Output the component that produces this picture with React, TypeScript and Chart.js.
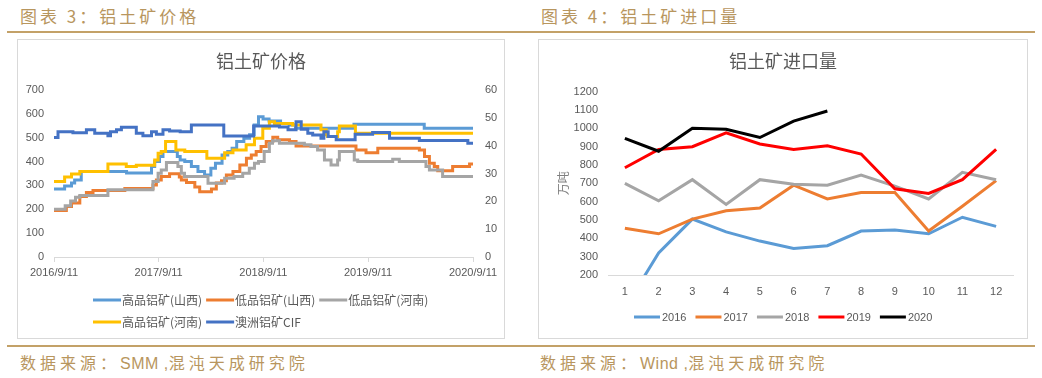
import React, { useEffect, useRef } from 'react';
import { Chart, registerables } from 'chart.js';

Chart.register(...registerables);

const CJK = '"Noto Sans CJK SC", "Noto Sans", sans-serif';
const LAT = '"Liberation Sans", "Noto Sans CJK SC", sans-serif';
const TICK_COLOR = '#595959';
const GOLD_TEXT = '#B8965E';
const GOLD_LINE = '#C3A168';
const FRAME = '#D9D9D9';

// ---------------- 图表 3：铝土矿价格 ----------------
const priceHeader = '图表 3：铝土矿价格';
const priceTitle = '铝土矿价格';
const priceSource = '数据来源：SMM ,混沌天成研究院';
const priceTickLabels = ['2016/9/11', '2017/9/11', '2018/9/11', '2019/9/11', '2020/9/11'];
const priceSeriesNames = ['高品铝矿(山西)', '低品铝矿(山西)', '低品铝矿(河南)', '高品铝矿(河南)', '澳洲铝矿CIF'];
const priceColors = ['#5B9BD5', '#ED7D31', '#A5A5A5', '#FFC000', '#4472C4'];

// change points [date, value] (元/吨); value holds until the next point
const highShanxi: [string, number][] = [
  ['2016-09-11', 285], ['2016-10-18', 298], ['2016-11-11', 310], ['2016-11-22', 323], ['2016-12-15', 358],
  ['2017-05-22', 352], ['2017-08-17', 379], ['2017-08-28', 400], ['2017-09-14', 421], ['2017-09-26', 442],
  ['2017-11-15', 421], ['2017-11-25', 407], ['2017-12-11', 400], ['2018-01-03', 379], ['2018-01-26', 358],
  ['2018-02-18', 344], ['2018-03-12', 372], ['2018-03-28', 393], ['2018-04-20', 428], ['2018-05-10', 442],
  ['2018-05-25', 456], ['2018-06-10', 484], ['2018-07-05', 498], ['2018-07-25', 512], ['2018-08-10', 553],
  ['2018-08-25', 588], ['2018-09-10', 578], ['2018-10-01', 570], ['2018-11-10', 560], ['2018-12-10', 553],
  ['2019-01-01', 540], ['2019-07-24', 556], ['2020-03-25', 540], ['2020-09-11', 540],
];
const lowShanxi: [string, number][] = [
  ['2016-09-11', 195], ['2016-10-24', 212], ['2016-11-11', 226], ['2016-12-10', 254], ['2017-01-02', 270],
  ['2017-01-25', 279], ['2017-05-16', 287], ['2017-08-22', 302], ['2017-09-03', 323], ['2017-09-20', 337],
  ['2017-10-19', 349], ['2017-11-22', 335], ['2017-11-29', 323], ['2017-12-17', 312], ['2018-01-15', 293],
  ['2018-02-01', 274], ['2018-03-14', 285], ['2018-03-31', 310], ['2018-04-18', 320], ['2018-05-05', 344],
  ['2018-05-28', 358], ['2018-06-21', 386], ['2018-07-14', 414], ['2018-07-31', 428], ['2018-08-17', 442],
  ['2018-09-03', 463], ['2018-09-21', 484], ['2018-10-14', 502], ['2018-10-31', 491], ['2018-12-11', 484],
  ['2019-01-03', 465], ['2019-07-31', 449], ['2019-09-04', 437], ['2019-10-15', 456], ['2020-03-08', 449],
  ['2020-03-26', 421], ['2020-04-12', 393], ['2020-04-29', 379], ['2020-05-11', 362], ['2020-07-02', 379],
  ['2020-08-30', 390], ['2020-09-11', 390],
];
const lowHenan: [string, number][] = [
  ['2016-09-11', 200], ['2016-10-20', 215], ['2016-11-08', 235], ['2016-11-25', 250], ['2016-12-10', 258],
  ['2017-03-18', 282], ['2017-08-22', 316], ['2017-09-09', 351], ['2017-09-20', 365], ['2017-10-08', 396],
  ['2017-11-17', 379], ['2017-11-29', 351], ['2017-12-10', 337], ['2018-03-02', 309], ['2018-04-29', 330],
  ['2018-06-01', 337], ['2018-07-01', 351], ['2018-07-24', 372], ['2018-08-11', 393], ['2018-08-25', 400],
  ['2018-09-14', 442], ['2018-10-02', 477], ['2018-10-13', 487], ['2018-11-06', 477], ['2019-02-01', 470],
  ['2019-02-24', 463], ['2019-03-19', 449], ['2019-04-12', 407], ['2019-05-05', 386], ['2019-05-28', 407],
  ['2019-06-03', 442], ['2019-07-25', 407], ['2019-08-06', 400], ['2019-12-06', 410], ['2019-12-29', 400],
  ['2020-03-31', 379], ['2020-04-12', 365], ['2020-05-28', 337], ['2020-09-11', 337],
];
const highHenan: [string, number][] = [
  ['2016-09-11', 316], ['2016-10-18', 335], ['2016-11-11', 348], ['2016-12-10', 358], ['2017-03-18', 390],
  ['2017-05-21', 379], ['2017-06-25', 385], ['2017-08-28', 407], ['2017-09-09', 435], ['2017-09-20', 442],
  ['2017-10-05', 484], ['2017-11-10', 449], ['2017-12-11', 442], ['2018-02-26', 414], ['2018-04-29', 437],
  ['2018-05-28', 449], ['2018-07-13', 470], ['2018-08-11', 498], ['2018-09-09', 540], ['2018-10-02', 567],
  ['2018-10-20', 560], ['2018-12-22', 553], ['2019-03-31', 533], ['2019-04-18', 512], ['2019-04-23', 505],
  ['2019-05-28', 525], ['2019-06-03', 549], ['2019-07-29', 519], ['2020-09-11', 519],
];
// 美元/吨, right axis
const ausCIF: [string, number][] = [
  ['2016-09-11', 42.9], ['2016-09-25', 45.0], ['2016-11-16', 44.6], ['2017-01-02', 45.7], ['2017-01-31', 44.5],
  ['2017-03-18', 43.6], ['2017-03-27', 45.0], ['2017-04-17', 45.7], ['2017-05-04', 46.6], ['2017-06-25', 44.5],
  ['2017-07-18', 43.6], ['2017-08-17', 45.0], ['2017-09-03', 44.1], ['2017-09-26', 45.7], ['2017-10-19', 45.3],
  ['2017-11-25', 45.0], ['2018-01-03', 47.4], ['2018-04-26', 43.5], ['2018-08-08', 47.1], ['2018-11-06', 46.7],
  ['2018-12-06', 45.7], ['2019-01-03', 48.6], ['2019-01-21', 45.9], ['2019-02-13', 44.5], ['2019-03-02', 43.8],
  ['2019-03-31', 42.7], ['2019-04-10', 45.0], ['2019-04-25', 43.3], ['2019-05-23', 42.1], ['2019-07-28', 44.1],
  ['2019-09-27', 44.7], ['2019-11-25', 42.7], ['2020-03-08', 41.9], ['2020-08-24', 40.9], ['2020-09-11', 40.9],
];
const priceSeries = [highShanxi, lowShanxi, lowHenan, highHenan, ausCIF];
const priceAxisOf = ['y', 'y', 'y', 'y', 'y1'];
const priceLeftRange = [0, 700, 100];
const priceRightRange = [0, 60, 10];

// ---------------- 图表 4：铝土矿进口量 ----------------
const importHeader = '图表 4：铝土矿进口量';
const importTitle = '铝土矿进口量';
const importSource = '数据来源：Wind ,混沌天成研究院';
const importUnit = '万吨';
const months = ['1', '2', '3', '4', '5', '6', '7', '8', '9', '10', '11', '12'];
const importYears = ['2016', '2017', '2018', '2019', '2020'];
const importColors = ['#5B9BD5', '#ED7D31', '#A5A5A5', '#FF0000', '#000000'];
const imp2016 = [20, 320, 505, 435, 385, 345, 360, 440, 445, 425, 515, 465];
const imp2017 = [455, 425, 505, 550, 565, 690, 615, 650, 650, 440, 575, 715];
const imp2018 = [700, 605, 720, 585, 720, 695, 690, 745, 685, 615, 760, 720];
const imp2019 = [785, 885, 900, 975, 915, 885, 905, 860, 670, 645, 720, 885];
const imp2020 = [945, 875, 1000, 995, 950, 1040, 1095];
const importSeries = [imp2016, imp2017, imp2018, imp2019, imp2020];
const importRange = [200, 1200, 100];

const ts = (s: string) => {
  const [y, m, d] = s.split(/[-/]/).map(Number);
  return Date.UTC(y, m - 1, d);
};

function lineLegend(cfg: any) {
  return {
    id: 'lineLegend',
    afterDraw(chart: any) {
      const ctx = chart.ctx;
      const ds = chart.data.datasets;
      ctx.save();
      ctx.font = cfg.font;
      ctx.textBaseline = 'middle';
      ctx.textAlign = 'left';
      const itemW = (i: number) => cfg.lineLen + cfg.gapLine + ctx.measureText(ds[i].label).width;
      const rowW = (r: number[]) => r.reduce((s: number, i: number, k: number) => s + itemW(i) + (k ? cfg.gapItem : 0), 0);
      const startX = Math.round((chart.width - rowW(cfg.rows[0])) / 2);
      cfg.rows.forEach((row: number[], ri: number) => {
        let x = startX;
        const y = cfg.rowY[ri];
        row.forEach((i: number) => {
          ctx.strokeStyle = ds[i].borderColor;
          ctx.lineWidth = cfg.lineWidth;
          ctx.lineCap = 'butt';
          ctx.beginPath();
          ctx.moveTo(x, y);
          ctx.lineTo(x + cfg.lineLen, y);
          ctx.stroke();
          ctx.fillStyle = cfg.color;
          ctx.fillText(ds[i].label, x + cfg.lineLen + cfg.gapLine, y + 0.5);
          x += itemW(i) + cfg.gapItem;
        });
      });
      ctx.restore();
    },
  };
}

// split into CJK-ish and latin runs so only CJK glyphs get the wide tracking
function SpacedText({ text }: { text: string }) {
  const parts = text.match(/[A-Za-z0-9 ,]+|[^A-Za-z0-9 ,]+/g) || [];
  return (
    <>
      {parts.map((p, i) =>
        /[A-Za-z0-9]/.test(p) ? (
          <span key={i} style={{ letterSpacing: 0.5, fontFamily: '"Liberation Sans Narrow", "Liberation Sans", sans-serif' }}>
            {p}
          </span>
        ) : (
          <span key={i}>{p}</span>
        )
      )}
    </>
  );
}

export default function App() {
  const priceRef = useRef<HTMLCanvasElement>(null);
  const importRef = useRef<HTMLCanvasElement>(null);

  useEffect(() => {
    const n = priceSeries.length;
    const tickVals = priceTickLabels.map(ts);
    const c1 = new Chart(priceRef.current as HTMLCanvasElement, {
      type: 'line',
      data: {
        datasets: priceSeries.map((s, i) => ({
          label: priceSeriesNames[i],
          data: s.map(([d, v]) => ({ x: ts(d), y: v })),
          borderColor: priceColors[i],
          backgroundColor: priceColors[i],
          borderWidth: 3,
          pointRadius: 0,
          stepped: true,
          fill: false,
          yAxisID: priceAxisOf[i],
          order: n - i,
        })),
      },
      options: {
        responsive: false,
        animation: false,
        layout: { padding: 0 },
        plugins: {
          legend: { display: false },
          tooltip: { enabled: false },
          title: {
            display: true,
            text: priceTitle,
            color: TICK_COLOR,
            font: { size: 18, family: CJK, weight: 'normal' },
            padding: { top: 10.7, bottom: 17.7 },
          },
        },
        scales: {
          x: {
            type: 'linear',
            min: tickVals[0],
            max: tickVals[tickVals.length - 1],
            afterBuildTicks: (s: any) => {
              s.ticks = tickVals.map((v) => ({ value: v }));
            },
            afterFit: (s: any) => {
              s.height = 81;
            },
            grid: { display: true, drawOnChartArea: false, drawTicks: true, tickLength: 5, color: FRAME },
            border: { display: true, color: FRAME, width: 1 },
            ticks: {
              padding: 4,
              maxRotation: 0,
              autoSkip: false,
              color: TICK_COLOR,
              font: { size: 11, family: LAT },
              callback: (_v: any, i: number) => priceTickLabels[i],
            },
          },
          y: {
            position: 'left',
            min: priceLeftRange[0],
            max: priceLeftRange[1],
            ticks: {
              stepSize: priceLeftRange[2],
              padding: 10,
              color: TICK_COLOR,
              font: { size: 11, family: LAT },
              callback: (v: any) => String(v),
            },
            grid: { display: false, drawTicks: false },
            border: { display: false },
            afterFit: (s: any) => {
              s.width = 36;
            },
          },
          y1: {
            position: 'right',
            min: priceRightRange[0],
            max: priceRightRange[1],
            ticks: {
              stepSize: priceRightRange[2],
              padding: 12,
              color: TICK_COLOR,
              font: { size: 11, family: LAT },
              callback: (v: any) => String(v),
            },
            grid: { display: false, drawTicks: false },
            border: { display: false },
            afterFit: (s: any) => {
              s.width = 31;
            },
          },
        },
      } as any,
      plugins: [
        lineLegend({
          rows: [[0, 1, 2], [3, 4]],
          rowY: [260, 282],
          lineLen: 28,
          lineWidth: 3,
          gapLine: 1,
          gapItem: 4,
          font: `12px ${CJK}`,
          color: TICK_COLOR,
        }) as any,
      ],
    });

    const m = importSeries.length;
    const c2 = new Chart(importRef.current as HTMLCanvasElement, {
      type: 'line',
      data: {
        labels: months,
        datasets: importSeries.map((s, i) => ({
          label: importYears[i],
          data: s,
          borderColor: importColors[i],
          backgroundColor: importColors[i],
          borderWidth: 3,
          pointRadius: 0,
          tension: 0,
          fill: false,
          order: m - i,
        })),
      },
      options: {
        responsive: false,
        animation: false,
        layout: { padding: 0 },
        plugins: {
          legend: { display: false },
          tooltip: { enabled: false },
          title: {
            display: true,
            text: importTitle,
            color: TICK_COLOR,
            font: { size: 18, family: CJK, weight: 'normal' },
            padding: { top: 10.7, bottom: 19.4 },
          },
        },
        scales: {
          x: {
            type: 'category',
            offset: true,
            grid: { display: false, drawTicks: false },
            border: { display: true, color: FRAME, width: 1 },
            ticks: { padding: 10, maxRotation: 0, autoSkip: false, color: TICK_COLOR, font: { size: 11, family: LAT } },
            afterFit: (s: any) => {
              s.height = 63;
            },
          },
          y: {
            position: 'left',
            min: importRange[0],
            max: importRange[1],
            ticks: {
              stepSize: importRange[2],
              padding: 10,
              color: TICK_COLOR,
              font: { size: 11, family: LAT },
              callback: (v: any) => String(v),
            },
            grid: { display: false, drawTicks: false },
            border: { display: false },
            title: {
              display: true,
              text: importUnit,
              color: '#7F7F7F',
              font: { size: 12, family: CJK, weight: 'normal' },
              padding: { top: 17.3, bottom: 0 },
            },
            afterFit: (s: any) => {
              s.width = 69;
            },
          },
          yPad: {
            position: 'right',
            display: true,
            grid: { display: false, drawTicks: false },
            border: { display: false },
            ticks: { display: false },
            afterFit: (s: any) => {
              s.width = 14;
            },
          },
        },
      } as any,
      plugins: [
        lineLegend({
          rows: [[0, 1, 2, 3, 4]],
          rowY: [277],
          lineLen: 26,
          lineWidth: 3,
          gapLine: 2,
          gapItem: 9,
          font: `11px ${LAT}`,
          color: TICK_COLOR,
        }) as any,
      ],
    });

    return () => {
      c1.destroy();
      c2.destroy();
    };
  }, []);

  const headerStyle: any = {
    position: 'absolute',
    top: 4,
    font: `17px ${CJK}`,
    lineHeight: '24px',
    letterSpacing: 3,
    color: GOLD_TEXT,
    whiteSpace: 'nowrap',
  };
  const footerStyle: any = {
    position: 'absolute',
    top: 351,
    font: `16px ${CJK}`,
    lineHeight: '22px',
    letterSpacing: 4,
    color: GOLD_TEXT,
    whiteSpace: 'nowrap',
  };

  return (
    <div style={{ position: 'absolute', left: 0, top: 0, width: 1042, height: 378, background: '#fff', overflow: 'hidden' }}>
      <div style={{ ...headerStyle, left: 20 }}>{priceHeader}</div>
      <div style={{ ...headerStyle, left: 541 }}>{importHeader}</div>
      <div style={{ position: 'absolute', left: 7, top: 31, width: 1028, height: 2, background: GOLD_LINE }} />

      <div style={{ position: 'absolute', left: 17, top: 39, width: 488, height: 300, border: `1px solid ${FRAME}`, boxSizing: 'border-box' }} />
      <canvas ref={priceRef} width={486} height={298} style={{ position: 'absolute', left: 18, top: 40, width: 486, height: 298 }} />

      <div style={{ position: 'absolute', left: 538, top: 39, width: 490, height: 300, border: `1px solid ${FRAME}`, boxSizing: 'border-box' }} />
      <canvas ref={importRef} width={488} height={298} style={{ position: 'absolute', left: 539, top: 40, width: 488, height: 298 }} />

      <div style={{ position: 'absolute', left: 7, top: 345, width: 1028, height: 2, background: GOLD_LINE }} />
      <div style={{ ...footerStyle, left: 20 }}>
        <SpacedText text={priceSource} />
      </div>
      <div style={{ ...footerStyle, left: 540 }}>
        <SpacedText text={importSource} />
      </div>
    </div>
  );
}
